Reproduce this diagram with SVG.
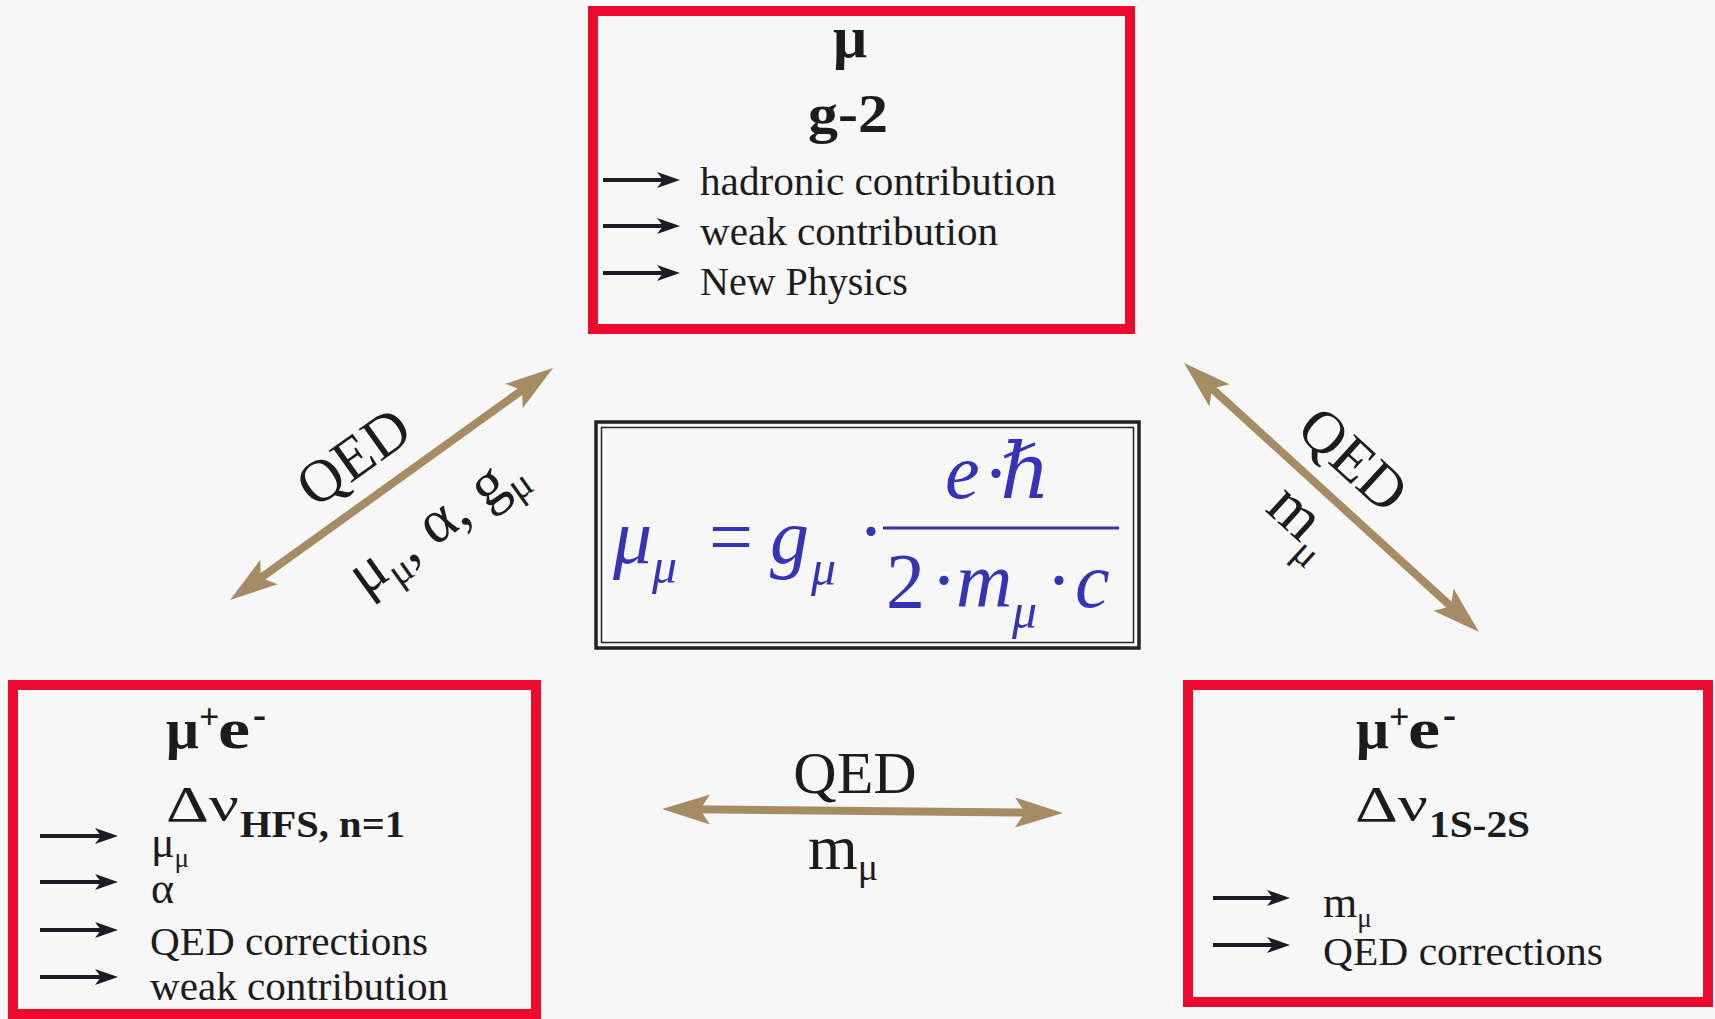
<svg xmlns="http://www.w3.org/2000/svg" width="1715" height="1019" viewBox="0 0 1715 1019">
<style>
.t{font-family:"Liberation Serif","DejaVu Serif",serif;fill:#1c1c1c}
.b{font-weight:bold}
.it{font-size:40px}
.lbl{font-size:60px}
.f{font-family:"Liberation Serif","DejaVu Serif",serif;fill:#3434B4;font-style:italic;font-size:78px}
.fs{font-size:50px}
.fu{font-style:normal}
.redbox{fill:none;stroke:#EC0A2E;stroke-width:10}
.blk{stroke:#1c1c24;stroke-width:4;marker-end:url(#bh)}
.tan{stroke:#A68C65;stroke-width:8;fill:none;marker-start:url(#th);marker-end:url(#th)}
</style>
<defs>
<marker id="bh" viewBox="-12 -9 26 18" refX="0" refY="0" markerWidth="26" markerHeight="18" markerUnits="userSpaceOnUse" orient="auto">
<path d="M12,0 L-11,-8 L-5,0 L-11,8 Z" fill="#1c1c24"/>
</marker>
<marker id="th" viewBox="-20 -17 52 34" refX="0" refY="0" markerWidth="52" markerHeight="34" markerUnits="userSpaceOnUse" orient="auto-start-reverse">
<path d="M30,0 L-18,-15 L-8,0 L-18,15 Z" fill="#A68C65"/>
</marker>
</defs>
<rect x="0" y="0" width="1715" height="1019" fill="#F7F7F7"/>

<g id="node-g2">
<rect class="redbox" x="593" y="11" width="537" height="318"/>
<text class="t b" x="850" y="57" font-size="60" text-anchor="middle">μ</text>
<text class="t b" x="808" y="132" font-size="54" textLength="80" lengthAdjust="spacingAndGlyphs">g-2</text>
<line class="blk" x1="603" y1="180" x2="668" y2="180"/>
<line class="blk" x1="603" y1="226" x2="668" y2="226"/>
<line class="blk" x1="603" y1="273" x2="668" y2="273"/>
<text class="t it" x="700" y="195" textLength="356" lengthAdjust="spacingAndGlyphs">hadronic contribution</text>
<text class="t it" x="700" y="245" textLength="298" lengthAdjust="spacingAndGlyphs">weak contribution</text>
<text class="t it" x="700" y="295">New Physics</text>
</g>

<g id="node-hfs">
<rect class="redbox" x="13" y="685" width="523" height="329"/>
<text class="t b" x="166" y="748" font-size="58">μ</text>
<text class="t b" x="199" y="729" font-size="36">+</text>
<text class="t b" x="218" y="748" font-size="58" textLength="32" lengthAdjust="spacingAndGlyphs">e</text>
<text class="t b" x="253" y="728" font-size="40" textLength="13" lengthAdjust="spacingAndGlyphs">-</text>
<text class="t" x="166" y="821" font-size="50" textLength="73" lengthAdjust="spacingAndGlyphs">Δν</text>
<text class="t b" x="240" y="837" font-size="38" textLength="165" lengthAdjust="spacingAndGlyphs">HFS, n=1</text>
<line class="blk" x1="40" y1="836" x2="106" y2="836"/>
<line class="blk" x1="40" y1="882" x2="106" y2="882"/>
<line class="blk" x1="40" y1="930" x2="106" y2="930"/>
<line class="blk" x1="40" y1="977" x2="106" y2="977"/>
<text class="t" x="151" y="857" font-size="44">μ<tspan font-size="27" dy="10">μ</tspan></text>
<text class="t" x="151" y="903" font-size="44">α</text>
<text class="t it" x="150" y="955" textLength="278" lengthAdjust="spacingAndGlyphs">QED corrections</text>
<text class="t it" x="150" y="1000" textLength="298" lengthAdjust="spacingAndGlyphs">weak contribution</text>
</g>

<g id="node-1s2s">
<rect class="redbox" x="1188" y="685" width="520" height="317"/>
<text class="t b" x="1356" y="748" font-size="58">μ</text>
<text class="t b" x="1389" y="729" font-size="36">+</text>
<text class="t b" x="1408" y="748" font-size="58" textLength="32" lengthAdjust="spacingAndGlyphs">e</text>
<text class="t b" x="1443" y="728" font-size="40" textLength="13" lengthAdjust="spacingAndGlyphs">-</text>
<text class="t" x="1355" y="821" font-size="50" textLength="73" lengthAdjust="spacingAndGlyphs">Δν</text>
<text class="t b" x="1429" y="837" font-size="38" textLength="101" lengthAdjust="spacingAndGlyphs">1S-2S</text>
<line class="blk" x1="1213" y1="898" x2="1278" y2="898"/>
<line class="blk" x1="1213" y1="945" x2="1278" y2="945"/>
<text class="t" x="1323" y="917" font-size="44">m<tspan font-size="27" dy="10">μ</tspan></text>
<text class="t it" x="1323" y="965" textLength="280" lengthAdjust="spacingAndGlyphs">QED corrections</text>
</g>

<g id="node-formula">
<rect x="596" y="422" width="543" height="226" fill="none" stroke="#222" stroke-width="3.5"/>
<rect x="601.5" y="427.5" width="532" height="215" fill="none" stroke="#222" stroke-width="1.5"/>
<text class="f" x="613" y="563">μ</text>
<text class="f fs" x="652" y="583">μ</text>
<text class="f fu" x="709" y="563">=</text>
<text class="f" x="770" y="563">g</text>
<text class="f fs" x="811" y="585">μ</text>
<text class="f fu" x="858" y="557">·</text>
<line x1="883" y1="528" x2="1119" y2="528" stroke="#3434B4" stroke-width="3"/>
<text class="f" x="945" y="498">e</text>
<text class="f fu" x="983" y="499">·</text>
<text class="f" x="1000" y="498">ℏ</text>
<text class="f fu" x="886" y="607">2</text>
<text class="f fu" x="931" y="606">·</text>
<text class="f" x="956" y="607">m</text>
<text class="f fs" x="1012" y="628">μ</text>
<text class="f fu" x="1046" y="606">·</text>
<text class="f" x="1075" y="607">c</text>
</g>

<g id="connectors">
<line class="tan" x1="254.4" y1="582.5" x2="528.6" y2="385.5"/>
<text class="t lbl" transform="translate(365,473) rotate(-35.6)" text-anchor="middle">QED</text>
<text class="t" font-size="62" transform="translate(447,538) rotate(-35.6)" text-anchor="middle">μ<tspan font-size="40" dy="12">μ</tspan><tspan dy="-12">, α, g</tspan><tspan font-size="40" dy="12">μ</tspan></text>
<line class="tan" x1="1206.2" y1="383.2" x2="1456.8" y2="611.8"/>
<text class="t lbl" transform="translate(1340,474) rotate(42.4)" text-anchor="middle">QED</text>
<text class="t" font-size="64" transform="translate(1264,510) rotate(42.4)">m<tspan font-size="40" dy="16">μ</tspan></text>
<line class="tan" x1="692" y1="809.3" x2="1033" y2="812.7"/>
<text class="t lbl" x="855" y="793" text-anchor="middle">QED</text>
<text class="t" x="808" y="869" font-size="64">m<tspan font-size="38" dy="11">μ</tspan></text>
</g>
</svg>
